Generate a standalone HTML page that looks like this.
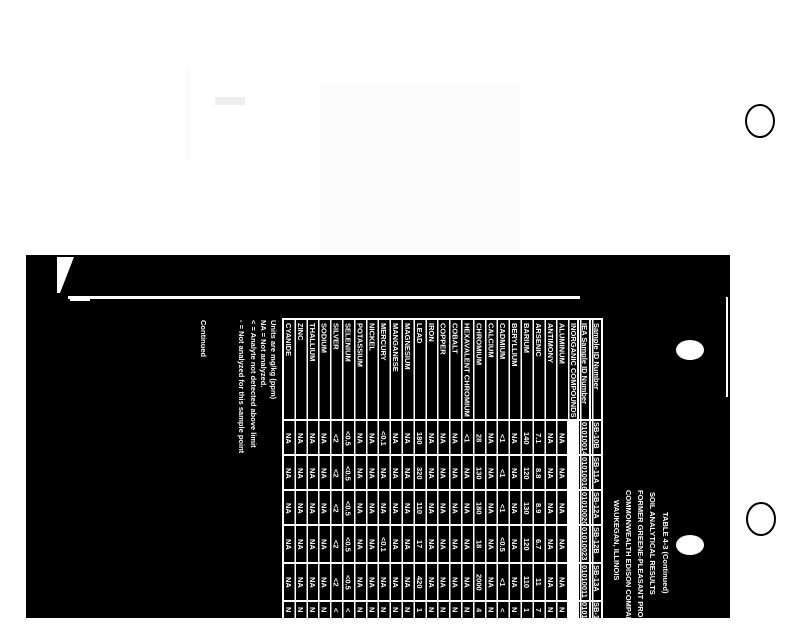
<!DOCTYPE html>
<html><head><meta charset="utf-8"><style>
html,body{margin:0;padding:0;background:#fff;}
body{width:800px;height:618px;position:relative;overflow:hidden;font-family:"Liberation Sans",sans-serif;}
.a{position:absolute;}
#blk{left:26px;top:255px;width:704px;height:363px;background:#000;}
#tbl{left:282px;top:318px;width:321px;height:310px;border:2px solid #fff;box-sizing:border-box;
background:repeating-linear-gradient(90deg,transparent 0,transparent 10.4px,#fff 10.4px,#fff 11.9px);}
.h{left:282px;width:321px;height:2px;background:#fff;}
.r{position:absolute;top:318px;width:11.9px;height:300px;}
.r b,.r i,.hd b,.hd i{position:absolute;left:1px;width:10px;writing-mode:vertical-rl;color:#fff;font-weight:bold;font-style:normal;font-size:7.5px;line-height:10px;white-space:nowrap;overflow:hidden;}
.r b{top:5px;height:95px;}
.r i{text-align:center;}
.r i:nth-of-type(1),.hd i:nth-of-type(1){top:104px;height:32px;}
.r i:nth-of-type(2),.hd i:nth-of-type(2){top:139px;height:32px;}
.r i:nth-of-type(3),.hd i:nth-of-type(3){top:174px;height:32px;}
.r i:nth-of-type(4),.hd i:nth-of-type(4){top:209px;height:34px;}
.r i:nth-of-type(5),.hd i:nth-of-type(5){top:247px;height:34px;}
.r i:nth-of-type(6),.hd i:nth-of-type(6){top:284px;height:16px;}
.hd{position:absolute;top:318px;width:12px;height:300px;}
.hd b{top:5px;height:95px;}
.t{position:absolute;writing-mode:vertical-rl;color:#fff;font-weight:bold;font-size:7.5px;line-height:10px;white-space:nowrap;}
</style></head><body>
<div class="a" style="left:186px;top:70px;width:4px;height:90px;background:#fafafa"></div>
<div class="a" style="left:215px;top:97px;width:30px;height:8px;background:#eee"></div>
<div class="a" style="left:320px;top:85px;width:200px;height:165px;background:#fcfcfc"></div>
<div class="a" id="blk"></div>
<svg class="a" style="left:0;top:0" width="800" height="618">
<polygon points="57,257 74,257 60,293 57,293" fill="#fff"/>
<rect x="68" y="296" width="512" height="3" fill="#fff"/>
<rect x="70" y="299" width="20" height="2" fill="#fff"/>
<rect x="726" y="297" width="2" height="100" fill="#fff"/>
<ellipse cx="690" cy="350" rx="14" ry="10" fill="#fff"/>
<ellipse cx="690" cy="545" rx="14" ry="10" fill="#fff"/>
<ellipse cx="760" cy="121" rx="14" ry="16" fill="none" stroke="#000" stroke-width="2"/>
<ellipse cx="761" cy="519" rx="14" ry="16" fill="none" stroke="#000" stroke-width="2"/>
</svg>
<div class="a" id="tbl"></div>
<div class="a h" style="top:419px"></div>
<div class="a h" style="top:454px"></div>
<div class="a h" style="top:489px"></div>
<div class="a h" style="top:524px"></div>
<div class="a h" style="top:562px"></div>
<div class="a h" style="top:600px"></div>
<div class="a" style="left:567px;top:420px;width:11px;height:198px;background:#fff"></div>
<div class="a" style="left:577px;top:318px;width:2px;height:300px;background:#fff"></div>
<div class="a" style="left:589px;top:318px;width:2px;height:300px;background:#fff"></div>

<div class="hd" style="left:590px"><b>Sample ID Number</b><i>SB-10B</i><i>SB-11A</i><i>SB-12A</i><i>SB-12B</i><i>SB-13A</i><i>SB-1</i></div>
<div class="hd" style="left:578px"><b>IEA Sample ID Number</b><i>01010014</i><i>01010016</i><i>01010020</i><i>01010023</i><i>01010011</i><i>0101</i></div>
<div class="hd" style="left:567px"><b>INORGANIC COMPOUNDS</b></div>

<div class="r" style="left:555.7px"><b>ALUMINUM</b><i>NA</i><i>NA</i><i>NA</i><i>NA</i><i>NA</i><i>N</i></div>
<div class="r" style="left:543.8px"><b>ANTIMONY</b><i>NA</i><i>NA</i><i>NA</i><i>NA</i><i>NA</i><i>N</i></div>
<div class="r" style="left:531.9px"><b>ARSENIC</b><i>7.1</i><i>8.8</i><i>8.9</i><i>6.7</i><i>11</i><i>7</i></div>
<div class="r" style="left:520px"><b>BARIUM</b><i>140</i><i>120</i><i>130</i><i>120</i><i>110</i><i>1</i></div>
<div class="r" style="left:508.1px"><b>BERYLLIUM</b><i>NA</i><i>NA</i><i>NA</i><i>NA</i><i>NA</i><i>N</i></div>
<div class="r" style="left:496.2px"><b>CADMIUM</b><i>&lt;1</i><i>&lt;1</i><i>&lt;1</i><i>&lt;0.5</i><i>&lt;1</i><i>&lt;</i></div>
<div class="r" style="left:484.3px"><b>CALCIUM</b><i>NA</i><i>NA</i><i>NA</i><i>NA</i><i>NA</i><i>N</i></div>
<div class="r" style="left:472.4px"><b>CHROMIUM</b><i>28</i><i>130</i><i>180</i><i>18</i><i>2000</i><i>4</i></div>
<div class="r" style="left:460.5px"><b>HEXAVALENT CHROMIUM</b><i>&lt;1</i><i>NA</i><i>NA</i><i>NA</i><i>NA</i><i>N</i></div>
<div class="r" style="left:448.6px"><b>COBALT</b><i>NA</i><i>NA</i><i>NA</i><i>NA</i><i>NA</i><i>N</i></div>
<div class="r" style="left:436.7px"><b>COPPER</b><i>NA</i><i>NA</i><i>NA</i><i>NA</i><i>NA</i><i>N</i></div>
<div class="r" style="left:424.8px"><b>IRON</b><i>NA</i><i>NA</i><i>NA</i><i>NA</i><i>NA</i><i>N</i></div>
<div class="r" style="left:412.9px"><b>LEAD</b><i>180</i><i>320</i><i>110</i><i>17</i><i>420</i><i>1</i></div>
<div class="r" style="left:401px"><b>MAGNESIUM</b><i>NA</i><i>NA</i><i>NA</i><i>NA</i><i>NA</i><i>N</i></div>
<div class="r" style="left:389.1px"><b>MANGANESE</b><i>NA</i><i>NA</i><i>NA</i><i>NA</i><i>NA</i><i>N</i></div>
<div class="r" style="left:377.2px"><b>MERCURY</b><i>&lt;0.1</i><i>NA</i><i>NA</i><i>&lt;0.1</i><i>NA</i><i>N</i></div>
<div class="r" style="left:365.3px"><b>NICKEL</b><i>NA</i><i>NA</i><i>NA</i><i>NA</i><i>NA</i><i>N</i></div>
<div class="r" style="left:353.4px"><b>POTASSIUM</b><i>NA</i><i>NA</i><i>NA</i><i>NA</i><i>NA</i><i>N</i></div>
<div class="r" style="left:341.5px"><b>SELENIUM</b><i>&lt;0.5</i><i>&lt;0.5</i><i>&lt;0.5</i><i>&lt;0.5</i><i>&lt;0.5</i><i>&lt;</i></div>
<div class="r" style="left:329.6px"><b>SILVER</b><i>&lt;2</i><i>&lt;2</i><i>&lt;2</i><i>&lt;2</i><i>&lt;2</i><i>&lt;</i></div>
<div class="r" style="left:317.7px"><b>SODIUM</b><i>NA</i><i>NA</i><i>NA</i><i>NA</i><i>NA</i><i>N</i></div>
<div class="r" style="left:305.8px"><b>THALLIUM</b><i>NA</i><i>NA</i><i>NA</i><i>NA</i><i>NA</i><i>N</i></div>
<div class="r" style="left:293.9px"><b>ZINC</b><i>NA</i><i>NA</i><i>NA</i><i>NA</i><i>NA</i><i>N</i></div>
<div class="r" style="left:282px"><b>CYANIDE</b><i>NA</i><i>NA</i><i>NA</i><i>NA</i><i>NA</i><i>N</i></div>

<div class="t" style="left:268px;top:320px">Units are mg/kg (ppm)</div>
<div class="t" style="left:258px;top:320px">NA = Not analyzed.</div>
<div class="t" style="left:248px;top:320px">&lt; = Analyte not detected above limit</div>
<div class="t" style="left:236px;top:320px">- = Not analyzed for this sample point</div>
<div class="t" style="left:198px;top:320px">Continued</div>

<div class="t" style="left:660px;top:512px">TABLE 4-3 (Continued)</div>
<div class="t" style="left:647px;top:492px">SOIL ANALYTICAL RESULTS</div>
<div class="t" style="left:635px;top:490px">FORMER GREENE-PLEASANT PROPERTY</div>
<div class="t" style="left:623px;top:490px">COMMONWEALTH EDISON COMPANY</div>
<div class="t" style="left:611px;top:500px">WAUKEGAN, ILLINOIS</div>
</body></html>
